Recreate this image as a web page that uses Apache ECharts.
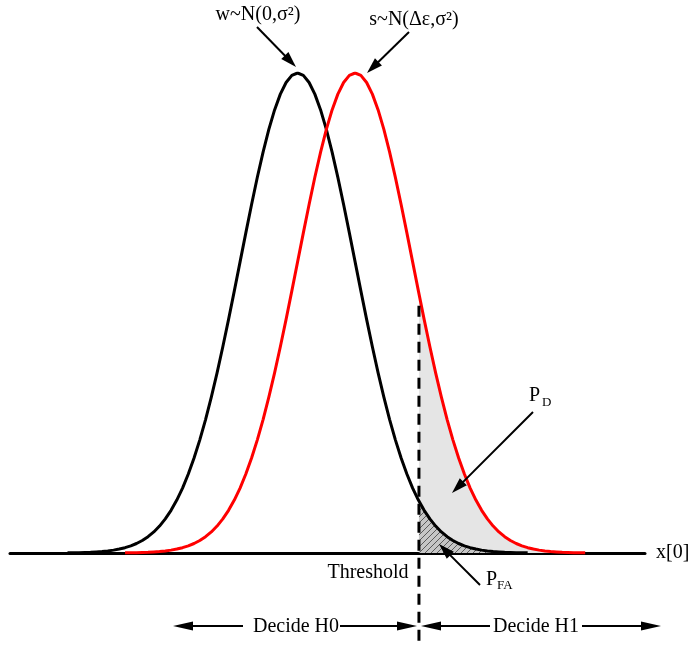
<!DOCTYPE html>
<html><head><meta charset="utf-8">
<script src="https://cdn.jsdelivr.net/npm/echarts@6/dist/echarts.min.js"></script>
<style>html,body{margin:0;padding:0;background:#fff}#c{width:690px;height:651px}</style>
</head><body><div id="c"></div>
<script>
// ---- data (x in units of sigma, y relative to peak height) ----
const blackX = [-4,-3.9,-3.8,-3.7,-3.6,-3.5,-3.4,-3.3,-3.2,-3.1,-3,-2.9,-2.8,-2.7,-2.6,-2.5,-2.4,-2.3,-2.2,-2.1,-2,-1.9,-1.8,-1.7,-1.6,-1.5,-1.4,-1.3,-1.2,-1.1,-1,-0.9,-0.8,-0.7,-0.6,-0.5,-0.4,-0.3,-0.2,-0.1,0,0.1,0.2,0.3,0.4,0.5,0.6,0.7,0.8,0.9,1,1.1,1.2,1.3,1.4,1.5,1.6,1.7,1.8,1.9,2,2.1,2.2,2.3,2.4,2.5,2.6,2.7,2.8,2.9,3,3.1,3.2,3.3,3.4,3.5,3.6,3.7,3.8,3.9,4];
const blackY = [0.0003,0.0005,0.0007,0.0011,0.0015,0.0022,0.0031,0.0043,0.0060,0.0082,0.0111,0.0149,0.0198,0.0261,0.0340,0.0439,0.0561,0.0710,0.0889,0.1103,0.1353,0.1645,0.1979,0.2357,0.2780,0.3247,0.3753,0.4296,0.4868,0.5461,0.6065,0.6670,0.7261,0.7827,0.8353,0.8825,0.9231,0.9560,0.9802,0.9950,1,0.9950,0.9802,0.9560,0.9231,0.8825,0.8353,0.7827,0.7261,0.6670,0.6065,0.5461,0.4868,0.4296,0.3753,0.3247,0.2780,0.2357,0.1979,0.1645,0.1353,0.1103,0.0889,0.0710,0.0561,0.0439,0.0340,0.0261,0.0198,0.0149,0.0111,0.0082,0.0060,0.0043,0.0031,0.0022,0.0015,0.0011,0.0007,0.0005,0.0003];
const redX = [-3,-2.9,-2.8,-2.7,-2.6,-2.5,-2.4,-2.3,-2.2,-2.1,-2,-1.9,-1.8,-1.7,-1.6,-1.5,-1.4,-1.3,-1.2,-1.1,-1,-0.9,-0.8,-0.7,-0.6,-0.5,-0.4,-0.3,-0.2,-0.1,0,0.1,0.2,0.3,0.4,0.5,0.6,0.7,0.8,0.9,1,1.1,1.2,1.3,1.4,1.5,1.6,1.7,1.8,1.9,2,2.1,2.2,2.3,2.4,2.5,2.6,2.7,2.8,2.9,3,3.1,3.2,3.3,3.4,3.5,3.6,3.7,3.8,3.9,4,4.1,4.2,4.3,4.4,4.5,4.6,4.7,4.8,4.9,5];
const redY = [0.0003,0.0005,0.0007,0.0011,0.0015,0.0022,0.0031,0.0043,0.0060,0.0082,0.0111,0.0149,0.0198,0.0261,0.0340,0.0439,0.0561,0.0710,0.0889,0.1103,0.1353,0.1645,0.1979,0.2357,0.2780,0.3247,0.3753,0.4296,0.4868,0.5461,0.6065,0.6670,0.7261,0.7827,0.8353,0.8825,0.9231,0.9560,0.9802,0.9950,1,0.9950,0.9802,0.9560,0.9231,0.8825,0.8353,0.7827,0.7261,0.6670,0.6065,0.5461,0.4868,0.4296,0.3753,0.3247,0.2780,0.2357,0.1979,0.1645,0.1353,0.1103,0.0889,0.0710,0.0561,0.0439,0.0340,0.0261,0.0198,0.0149,0.0111,0.0082,0.0060,0.0043,0.0031,0.0022,0.0015,0.0011,0.0007,0.0005,0.0003];
const threshold = 2.11;
const blackAtThreshold = 0.108;
const redAtThreshold = 0.54;
const thresholdLineY = [0.515, -0.19];
const xRange = [-5, 6.04];
const yRange = [-0.2, 1.0];

function pairs(xs, ys) { return xs.map((x, i) => [x, ys[i]]); }
function tail(xs, ys, x0, y0) {
  const out = [[x0, y0]];
  xs.forEach((x, i) => { if (x > x0) out.push([x, ys[i]]); });
  return out;
}

// hatch pattern
const tile = document.createElement('canvas');
tile.width = 6; tile.height = 6;
const tc = tile.getContext('2d');
tc.fillStyle = '#c6c6c6'; tc.fillRect(0, 0, 6, 6);
tc.strokeStyle = '#5a5a5a'; tc.lineWidth = 1;
[[0, 6, 6, 0], [-3, 3, 3, -3], [3, 9, 9, 3]].forEach(l => { tc.beginPath(); tc.moveTo(l[0], l[1]); tc.lineTo(l[2], l[3]); tc.stroke(); });

const FONT = '"Liberation Serif", "Times New Roman", serif';
function txt(text, x, y, size, align, valign) {
  return { type: 'text', z: 100, style: { text: text, x: x, y: y, fontSize: size, fontFamily: FONT, fill: '#000', textAlign: align || 'center', textVerticalAlign: valign || 'middle' } };
}
function arrow(x1, y1, x2, y2, len, hw, lw) {
  const dx = x2 - x1, dy = y2 - y1, d = Math.sqrt(dx * dx + dy * dy);
  const ux = dx / d, uy = dy / d;
  const bx = x2 - ux * len, by = y2 - uy * len;
  return [
    { type: 'line', z: 100, shape: { x1: x1, y1: y1, x2: bx + ux * 2, y2: by + uy * 2 }, style: { stroke: '#000', lineWidth: lw } },
    { type: 'polygon', z: 100, shape: { points: [[x2, y2], [bx - uy * hw, by + ux * hw], [bx + uy * hw, by - ux * hw]] }, style: { fill: '#000' } }
  ];
}

const graphics = [].concat(
  [txt('w~N(0,σ²)', 258, 15, 20)],
  [txt('s~N(Δε,σ²)', 414, 20, 20)],
  arrow(257, 27, 296, 67, 16, 5, 2),
  arrow(409, 32, 367, 73, 16, 5, 2),
  [txt('P', 529, 396, 20, 'left'), txt('D', 542, 403, 13, 'left')],
  arrow(533, 412, 452, 493, 16, 5, 2),
  [txt('P', 486, 580, 20, 'left'), txt('FA', 497, 586, 13, 'left')],
  arrow(480, 585, 439, 544, 16, 5, 2),
  [txt('Threshold', 368, 573, 20)],
  [txt('x[0]', 656, 553, 20, 'left')],
  [txt('Decide H0', 296, 627, 20), txt('Decide H1', 536, 627, 20)],
  arrow(243, 626, 173, 626, 20, 4.5, 2),
  arrow(340, 626, 417, 626, 20, 4.5, 2),
  arrow(490, 626, 421, 626, 20, 4.5, 2),
  arrow(582, 626, 661, 626, 20, 4.5, 2)
);

const chart = echarts.init(document.getElementById('c'), null, { renderer: 'canvas' });
chart.setOption({
  animation: false,
  backgroundColor: '#fff',
  grid: { left: 10, right: 45, top: 73, bottom: 2 },
  xAxis: { type: 'value', min: xRange[0], max: xRange[1],
    axisLine: { show: true, onZero: true, lineStyle: { color: '#000', width: 3 } },
    axisTick: { show: false }, axisLabel: { show: false }, splitLine: { show: false } },
  yAxis: { type: 'value', min: yRange[0], max: yRange[1], show: false, splitLine: { show: false } },
  series: [
    { type: 'line', data: tail(redX, redY, threshold, redAtThreshold), showSymbol: false, silent: true,
      lineStyle: { width: 0 }, areaStyle: { color: '#e5e5e5', opacity: 1 }, z: 1 },
    { type: 'line', data: tail(blackX, blackY, threshold, blackAtThreshold), showSymbol: false, silent: true,
      lineStyle: { width: 0 }, areaStyle: { color: { image: tile, repeat: 'repeat' }, opacity: 1 }, z: 2 },
    { type: 'line', data: pairs(blackX, blackY), showSymbol: false, silent: true,
      lineStyle: { color: '#000', width: 3, join: 'round' }, z: 3 },
    { type: 'line', data: pairs(redX, redY), showSymbol: false, silent: true,
      lineStyle: { color: '#ff0000', width: 3, join: 'round' }, z: 4 },
    { type: 'line', data: [[threshold, thresholdLineY[0]], [threshold, thresholdLineY[1]]], showSymbol: false, silent: true,
      lineStyle: { color: '#000', width: 3, type: [11, 7] }, z: 5 }
  ],
  graphic: graphics
});
</script></body></html>
